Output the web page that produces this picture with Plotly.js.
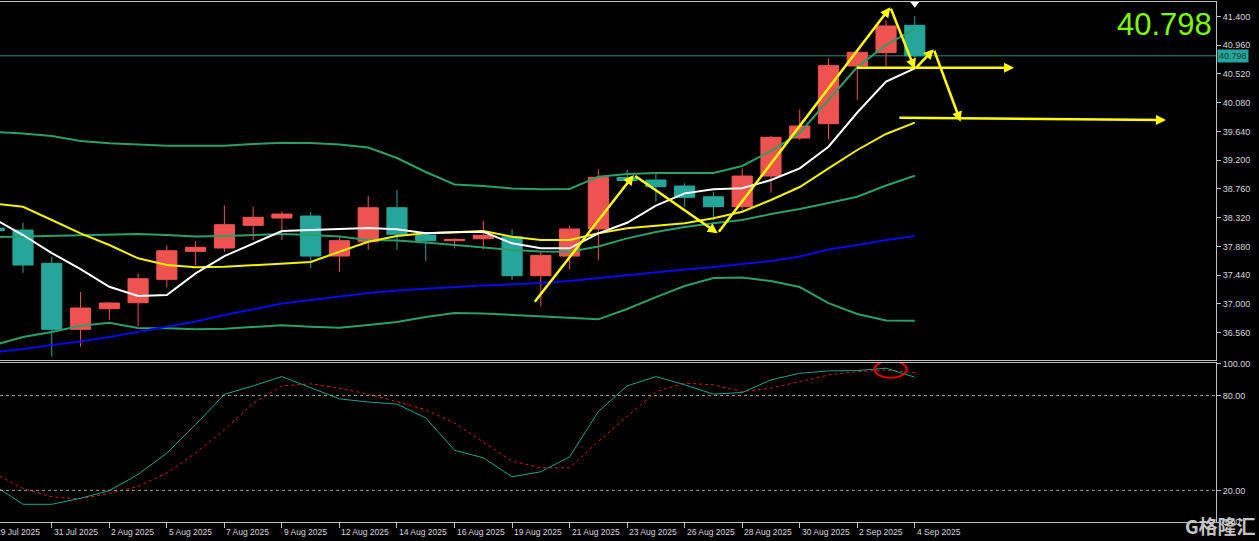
<!DOCTYPE html>
<html><head><meta charset="utf-8">
<script src="https://cdn.plot.ly/plotly-3.0.1.min.js"></script>
<style>html,body{margin:0;padding:0;background:#000;}#chart{width:1259px;height:541px;}</style>
</head><body><div id="chart"></div>
<script>
// ---- data (bar index -1 .. 31) ----
const barIdx = [-1,0,1,2,3,4,5,6,7,8,9,10,11,12,13,14,15,16,17,18,19,20,21,22,23,24,25,26,27,28,29,30,31];
const openP  = [38.16,38.130,37.620,36.610,36.925,37.017,37.375,37.804,37.855,38.202,38.314,38.345,37.732,37.951,38.472,38.054,37.967,37.997,38.028,37.431,37.732,38.146,38.934,38.896,38.804,38.640,38.487,38.957,39.539,39.758,40.642,40.846,41.265];
const highP  = [38.20,38.242,37.717,37.181,37.030,37.467,37.896,37.957,38.509,38.487,38.417,38.406,38.019,38.651,38.743,38.080,38.003,38.273,38.141,37.798,38.192,39.060,39.050,39.008,38.846,38.717,39.075,39.570,39.979,40.760,40.860,41.346,41.408];
const lowP   = [38.00,37.477,36.190,36.343,36.752,36.660,37.253,37.594,37.794,37.977,37.977,37.549,37.492,37.824,37.824,37.660,37.850,37.835,37.365,36.956,37.529,37.671,38.820,38.564,38.487,38.284,38.437,38.702,39.509,39.519,40.121,40.634,40.740];
const closeP = [38.12,37.594,36.610,36.936,37.013,37.385,37.813,37.866,38.212,38.325,38.375,37.732,37.967,38.472,38.065,37.967,37.988,38.049,37.431,37.743,38.146,38.938,38.889,38.794,38.631,38.487,38.957,39.550,39.723,40.647,40.852,41.255,40.798];
const maWhite  = [38.299,38.054,37.778,37.533,37.262,37.120,37.135,37.467,37.732,37.927,38.115,38.130,38.150,38.161,38.141,38.080,38.095,38.104,37.927,37.850,37.850,38.080,38.242,38.503,38.692,38.754,38.769,38.896,39.075,39.406,39.930,40.402,40.607];
const maYellow = [38.536,38.487,38.284,38.080,37.901,37.697,37.594,37.559,37.568,37.594,37.620,37.640,37.798,37.951,38.039,38.080,38.095,38.115,38.028,37.977,37.977,38.080,38.156,38.192,38.233,38.310,38.411,38.590,38.789,39.075,39.356,39.601,39.774];
const maBlue   = [36.262,36.308,36.369,36.423,36.492,36.568,36.645,36.729,36.829,36.921,37.005,37.058,37.112,37.166,37.204,37.235,37.258,37.280,37.296,37.319,37.349,37.395,37.441,37.487,37.526,37.564,37.610,37.656,37.725,37.832,37.901,37.977,38.039];
const bbUpper  = [39.631,39.608,39.570,39.493,39.458,39.440,39.421,39.421,39.421,39.447,39.467,39.463,39.440,39.394,39.233,39.019,38.827,38.804,38.766,38.754,38.758,38.947,38.988,39.003,39.008,39.003,39.111,39.340,39.616,40.121,40.627,40.964,41.209];
const bbMiddle = [38.023,38.031,38.039,38.054,38.062,38.069,38.054,38.031,38.039,38.054,38.069,38.054,38.031,37.977,37.970,37.939,37.901,37.862,37.824,37.801,37.798,37.878,38.003,38.100,38.176,38.233,38.284,38.375,38.452,38.544,38.640,38.812,38.962];
const bbLower  = [36.370,36.492,36.568,36.665,36.711,36.630,36.625,36.610,36.619,36.650,36.671,36.650,36.634,36.676,36.722,36.798,36.859,36.852,36.829,36.813,36.790,36.763,36.921,37.104,37.273,37.395,37.403,37.349,37.258,37.012,36.844,36.744,36.741];
const stochK = [23.1,11.2,11.2,15.0,19.8,30.1,43.6,61.6,80.8,86.1,92.0,84.7,77.9,75.9,74.6,65.8,45.4,40.6,28.6,31.8,41.2,69.9,86.1,92.0,86.8,80.9,81.9,89.9,94.1,95.6,95.8,97.3,91.6];
const stochD = [30.7,21.3,15.9,14.6,18.1,22.5,31.0,43.6,58.4,75.1,86.1,87.4,84.7,80.9,76.2,71.0,62.6,50.5,38.5,34.3,34.3,51.0,66.8,82.5,87.8,86.8,82.5,84.7,88.8,93.0,95.1,96.2,94.5];
const dateTickIdx  = [-1,1,3,5,7,9,11,13,15,17,19,21,23,25,27,29,31];
const dateTickText = ['29 Jul 2025','31 Jul 2025','2 Aug 2025','5 Aug 2025','7 Aug 2025','9 Aug 2025','12 Aug 2025','14 Aug 2025','16 Aug 2025','19 Aug 2025','21 Aug 2025','23 Aug 2025','26 Aug 2025','28 Aug 2025','30 Aug 2025','2 Sep 2025','4 Sep 2025'];
const priceTicks = [41.4,40.96,40.52,40.08,39.64,39.2,38.76,38.32,37.88,37.44,37.0,36.56];
const stochTicks = [100,80,20,0];
const stochLevels = [80,20];
const lastPrice = 40.798;
const topMarker = {bar: 31, price: 41.595};
// hand-drawn analysis arrows (bar index, price)
const zigzag = [[17.75,37.008],[21.23,38.973],[24.15,38.080],[30.15,41.541],[31.0,40.596],[31.66,40.898],[32.59,39.789]];
const hArrows = [[[28.93,40.616],[34.45,40.616]],[[30.41,39.850],[39.73,39.815]]];
const crossCircle = {bar0: 29.6, bar1: 30.72, v0: 91.2, v1: 102.0};

// ---- view ----
const XR = [-0.80, 41.47];
const YR = [36.140, 41.622];
const Y2R = [0, 100.6];
const fam = '"Liberation Sans Narrow","Liberation Sans",Arial,sans-serif';
const tickFont = {family: fam, size: 9, color: '#d8d8d8'};
const dateFont = {family: fam, size: 8.5, color: '#d8d8d8'};
const axCol = '#c0c0c0';

const traces = [
  {type:'scatter', mode:'lines', x:barIdx, y:bbUpper, line:{color:'#2e9e69', width:2}, xaxis:'x', yaxis:'y', hoverinfo:'skip'},
  {type:'scatter', mode:'lines', x:barIdx, y:bbMiddle, line:{color:'#2e9e69', width:2}, xaxis:'x', yaxis:'y', hoverinfo:'skip'},
  {type:'scatter', mode:'lines', x:barIdx, y:bbLower, line:{color:'#2e9e69', width:2}, xaxis:'x', yaxis:'y', hoverinfo:'skip'},
  {type:'scatter', mode:'lines', x:barIdx, y:maBlue, line:{color:'#0a0ae6', width:2}, xaxis:'x', yaxis:'y', hoverinfo:'skip'},
  {type:'scatter', mode:'lines', x:barIdx, y:maYellow, line:{color:'#f2f200', width:2}, xaxis:'x', yaxis:'y', hoverinfo:'skip'},
  {type:'scatter', mode:'lines', x:barIdx, y:maWhite, line:{color:'#ffffff', width:2}, xaxis:'x', yaxis:'y', hoverinfo:'skip'},
  {type:'candlestick', x:barIdx, open:openP, high:highP, low:lowP, close:closeP, xaxis:'x', yaxis:'y',
   increasing:{line:{color:'#ef5350', width:1}, fillcolor:'#ef5350'},
   decreasing:{line:{color:'#26a69a', width:1}, fillcolor:'#26a69a'},
   whiskerwidth:0, hoverinfo:'skip'},
  {type:'scatter', mode:'markers', x:[topMarker.bar], y:[topMarker.price], marker:{symbol:'triangle-down', size:8, color:'#ffffff'}, xaxis:'x', yaxis:'y', hoverinfo:'skip'},
  {type:'scatter', mode:'lines', x:barIdx, y:stochD, line:{color:'#c8201e', width:1, dash:'3px,3px'}, xaxis:'x2', yaxis:'y2', hoverinfo:'skip'},
  {type:'scatter', mode:'lines', x:barIdx, y:stochK, line:{color:'#1fa08f', width:1}, xaxis:'x2', yaxis:'y2', hoverinfo:'skip'}
];

const annotations = [];
for (let i = 1; i < zigzag.length; i++) {
  annotations.push({x:zigzag[i][0], y:zigzag[i][1], ax:zigzag[i-1][0], ay:zigzag[i-1][1],
    xref:'x', yref:'y', axref:'x', ayref:'y', text:'', showarrow:true,
    arrowhead:2, arrowsize:0.8, arrowwidth:2.5, arrowcolor:'#ffff00', standoff:0});
}
hArrows.forEach(a => annotations.push({x:a[1][0], y:a[1][1], ax:a[0][0], ay:a[0][1],
  xref:'x', yref:'y', axref:'x', ayref:'y', text:'', showarrow:true,
  arrowhead:2, arrowsize:0.8, arrowwidth:2.5, arrowcolor:'#ffff00', standoff:0}));
dateTickIdx.forEach((k, i) => annotations.push({
  x:(k - XR[0]) / (XR[1] - XR[0]), xref:'paper', xanchor:'left', xshift:0,
  y:0, yref:'paper', yanchor:'middle', yshift:-10,
  text:dateTickText[i], showarrow:false, font:dateFont}));
annotations.push({x:1, xref:'paper', xanchor:'right', xshift:-2, y:1, yref:'paper', yanchor:'middle', yshift:-22,
  text:lastPrice.toFixed(3), showarrow:false,
  font:{family:'"Liberation Sans",Arial,sans-serif', size:31, color:'#7cfc00'}});
annotations.push({x:1, xref:'paper', xanchor:'left', xshift:1, y:lastPrice, yref:'y', yanchor:'middle',
  text:lastPrice.toFixed(3), showarrow:false, bgcolor:'#26a69a', borderpad:1,
  font:{family:fam, size:9, color:'#123f3b'}});
annotations.push({x:1, xref:'paper', xanchor:'left', xshift:-33, y:0, yref:'paper', yanchor:'middle', yshift:-3,
  text:'G格隆汇', showarrow:false,
  font:{family:'"Noto Sans CJK SC",sans-serif', size:19, color:'#c4c4c4', weight:'bold'}});

const shapes = [
  {type:'line', xref:'paper', x0:0, x1:1, yref:'y', y0:lastPrice, y1:lastPrice, line:{color:'#2c8a7e', width:1}, layer:'below'}
];
stochLevels.forEach(v => shapes.push({type:'line', xref:'paper', x0:0, x1:1, yref:'y2', y0:v, y1:v,
  line:{color:'#a0a0a0', width:1, dash:'dot'}}));
shapes.push({type:'circle', xref:'x2', yref:'y2', x0:crossCircle.bar0, x1:crossCircle.bar1,
  y0:crossCircle.v0, y1:crossCircle.v1, line:{color:'#e00000', width:2}});

const layout = {
  width:1259, height:541,
  margin:{l:0, r:43, t:2, b:19, pad:0},
  paper_bgcolor:'#000', plot_bgcolor:'#000',
  showlegend:false, hovermode:false,
  boxgap:0.3, boxgroupgap:0,
  xaxis:{domain:[0,1], range:XR, anchor:'y', showgrid:false, zeroline:false, showticklabels:false,
    ticks:'', showline:true, mirror:true, linecolor:axCol, linewidth:1, rangeslider:{visible:false}},
  yaxis:{domain:[0.3115,1], range:YR, side:'right', anchor:'x', showgrid:false, zeroline:false,
    tickmode:'array', tickvals:priceTicks, ticktext:priceTicks.map(v => v.toFixed(3)),
    ticks:'outside', ticklen:4, tickcolor:axCol, showline:true, linecolor:axCol, tickfont:tickFont},
  xaxis2:{domain:[0,1], range:XR, anchor:'y2', showgrid:false, zeroline:false, showticklabels:false,
    tickmode:'array', tickvals:dateTickIdx, ticks:'outside', ticklen:5, tickcolor:axCol,
    showline:true, mirror:true, linecolor:axCol, linewidth:1},
  yaxis2:{domain:[0,0.3058], range:Y2R, side:'right', anchor:'x2', showgrid:false, zeroline:false,
    tickmode:'array', tickvals:stochTicks, ticktext:stochTicks.map(v => v.toFixed(2)),
    ticks:'outside', ticklen:4, tickcolor:axCol, showline:true, linecolor:axCol, tickfont:tickFont},
  annotations:annotations,
  shapes:shapes
};

Plotly.newPlot('chart', traces, layout, {staticPlot:true, displayModeBar:false});
</script>
</body></html>
